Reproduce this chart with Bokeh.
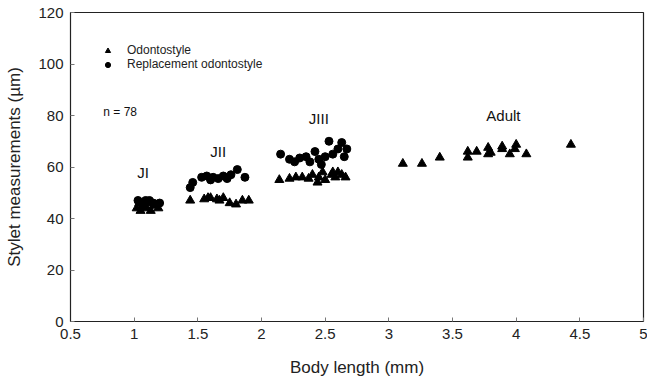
from bokeh.plotting import figure
from bokeh.models import Range1d, FixedTicker, Legend, LegendItem
from bokeh.core.properties import value
from bokeh.embed import file_html
from bokeh.resources import INLINE

# Odontostyle (triangles)
odo_x = [1.02, 1.05, 1.08, 1.10, 1.13, 1.16, 1.19, 1.04, 1.12,
         1.44, 1.55, 1.58, 1.60, 1.65, 1.67, 1.70, 1.75, 1.80, 1.85, 1.90,
         2.14, 2.22, 2.27, 2.32, 2.37, 2.40, 2.44, 2.45, 2.48, 2.50, 2.55, 2.56, 2.58, 2.60, 2.63, 2.66,
         3.11, 3.26, 3.40, 3.62, 3.62, 3.69, 3.78, 3.78, 3.80, 3.89, 3.89, 3.95, 4.00, 3.99, 4.08, 4.43]
odo_y = [44, 43, 45, 44, 43, 45, 44, 46, 46,
         47, 47.5, 48, 48, 47.5, 47, 48, 46, 45.5, 47, 47,
         55, 55.5, 56, 56, 55.5, 57, 54, 56, 58, 55, 57, 58, 56, 58, 57, 56,
         61.3, 61.3, 63.7, 66, 63.7, 66, 65, 67.5, 65.6, 68, 67, 65, 68.7, 67, 65, 68.7]

# Replacement odontostyle (circles)
rep_x = [1.03, 1.06, 1.09, 1.12, 1.15, 1.20, 1.07,
         1.44, 1.46, 1.53, 1.57, 1.60, 1.62, 1.66, 1.70, 1.73, 1.76, 1.81, 1.87,
         2.15, 2.22, 2.26, 2.30, 2.35, 2.38, 2.42, 2.45, 2.47, 2.50, 2.53, 2.56, 2.60, 2.63, 2.65, 2.67]
rep_y = [47, 46, 47, 47, 46, 46, 45,
         52, 54, 56, 56.5, 55, 56, 55.5, 56.5, 55.5, 57, 59, 56,
         65, 63, 62, 63.5, 64, 62, 66, 63, 61, 64, 70, 65, 67, 69.5, 64, 67]

stage_labels = ["JI", "JII", "JIII", "Adult"]
stage_x = [1.07, 1.66, 2.45, 3.90]
stage_y = [58, 66, 79, 80]

note_text = ["n = 78"]
note_x = [0.89]
note_y = [81.5]

x_ticks = [0.5, 1, 1.5, 2, 2.5, 3, 3.5, 4, 4.5, 5]
x_tick_labels = ["0.5", "1", "1.5", "2", "2.5", "3", "3.5", "4", "4.5", "5"]
y_ticks = [0, 20, 40, 60, 80, 100, 120]

FONT = "Liberation Sans"

p = figure(output_backend="svg", toolbar_location=None,
           frame_width=573, frame_height=309,
           min_border_left=70, min_border_right=4,
           min_border_top=12, min_border_bottom=62,
           x_range=Range1d(0.5, 5), y_range=Range1d(0, 120))

p.xgrid.visible = False
p.ygrid.visible = False
p.outline_line_color = "#222222"
p.outline_line_width = 1.2
p.background_fill_color = "white"
p.border_fill_color = "white"

p.xaxis.ticker = FixedTicker(ticks=x_ticks)
p.xaxis.major_label_overrides = {t: l for t, l in zip(x_ticks, x_tick_labels)}
p.yaxis.ticker = FixedTicker(ticks=y_ticks)

for ax in (p.xaxis, p.yaxis):
    ax.major_tick_in = 4
    ax.major_tick_out = 0
    ax.minor_tick_line_color = None
    ax.axis_line_color = "#222222"
    ax.major_tick_line_color = "#777777"
    ax.major_label_text_font = FONT
    ax.major_label_text_font_size = "15px"
    ax.major_label_text_color = "#222222"
    ax.axis_label_text_font = FONT
    ax.axis_label_text_font_size = "17px"
    ax.axis_label_text_font_style = "normal"
    ax.axis_label_text_color = "#222222"

p.xaxis.axis_label = "Body length (mm)"
p.yaxis.axis_label = "Stylet measurements (µm)"
p.xaxis.major_label_standoff = 7
p.yaxis.major_label_standoff = 7
p.xaxis.axis_label_standoff = 16
p.yaxis.axis_label_standoff = 11

r_odo = p.scatter(odo_x, odo_y, marker="triangle", size=9, color="black")
r_rep = p.scatter(rep_x, rep_y, marker="circle", size=8, color="black")

p.text(stage_x, stage_y, text=stage_labels, text_font=value(FONT),
       text_font_size="15px", text_align="center", text_baseline="middle",
       text_color="#111111")
p.text(note_x, note_y, text=note_text, text_font=value(FONT),
       text_font_size="12px", text_align="center", text_baseline="middle",
       text_color="#111111")

legend = Legend(items=[LegendItem(label="Odontostyle", renderers=[r_odo]),
                       LegendItem(label="Replacement odontostyle", renderers=[r_rep])],
                location=(31, 250), orientation="vertical",
                label_text_font=FONT, label_text_font_size="12px",
                label_text_color="#222222",
                glyph_width=13, glyph_height=13, label_height=13,
                label_standoff=13, spacing=0, padding=0, margin=0,
                border_line_color=None, background_fill_alpha=0)
p.add_layout(legend)

open("out.html", "w").write(file_html(p, INLINE))
